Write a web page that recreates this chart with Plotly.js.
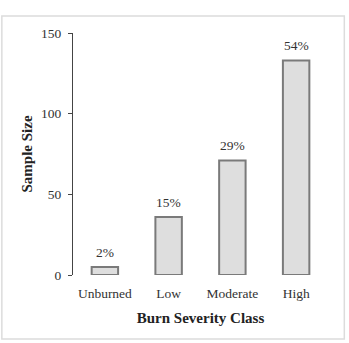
<!DOCTYPE html>
<html>
<head>
<meta charset="utf-8">
<script src="https://cdn.plot.ly/plotly-3.0.1.min.js"></script>
<style>html,body{margin:0;padding:0;background:#fff;}#chart{width:349px;height:343px;}</style>
</head>
<body>
<div id="chart"></div>
<script>
const categories = ["Unburned", "Low", "Moderate", "High"];
const sampleSize = [5, 36, 71, 133];
const percentLabels = ["2%", "15%", "29%", "54%"];

const fontFamily = '"Liberation Serif", "Times New Roman", serif';

const trace = {
  type: 'bar',
  x: categories,
  y: sampleSize,
  marker: { color: '#dedede', line: { color: '#7a7a7a', width: 2 } },
  hoverinfo: 'none'
};

const annotations = categories.map((c, i) => ({
  x: c, y: sampleSize[i], xref: 'x', yref: 'y',
  text: percentLabels[i], showarrow: false,
  yanchor: 'bottom', yshift: 5,
  font: { family: fontFamily, size: 13.5, color: '#333' }
}));

const layout = {
  width: 349, height: 343,
  margin: { l: 72.5, r: 20.5, t: 33, b: 68 },
  paper_bgcolor: '#fff', plot_bgcolor: '#fff',
  showlegend: false,
  bargap: 0.585,
  font: { family: fontFamily, color: '#333', size: 13.5 },
  xaxis: {
    type: 'category', range: [-0.5, 3.5],
    showline: false, showgrid: false, zeroline: false, ticks: '',
    ticklabelstandoff: 8,
    tickfont: { family: fontFamily, size: 13.5, color: '#333' },
    title: { text: 'Burn Severity Class', font: { family: fontFamily, size: 15, color: '#222', weight: 'bold' }, standoff: 12 }
  },
  yaxis: {
    range: [0, 150], tickvals: [0, 50, 100, 150],
    showline: true, linecolor: '#444', linewidth: 1,
    ticks: 'outside', ticklen: 4, tickcolor: '#444',
    ticklabelstandoff: 4,
    showgrid: false, zeroline: false,
    tickfont: { family: fontFamily, size: 13.5, color: '#333' },
    title: { text: 'Sample Size', font: { family: fontFamily, size: 15, color: '#222', weight: 'bold' }, standoff: 4 }
  },
  annotations: annotations,
  shapes: [{
    type: 'rect', xref: 'paper', yref: 'paper',
    x0: -0.279, x1: 1.064, y0: -0.264, y1: 1.070,
    line: { color: '#dcdcdc', width: 1.5 }, fillcolor: 'rgba(0,0,0,0)', layer: 'below'
  }]
};

Plotly.newPlot('chart', [trace], layout, { displayModeBar: false, staticPlot: true });
</script>
</body>
</html>
